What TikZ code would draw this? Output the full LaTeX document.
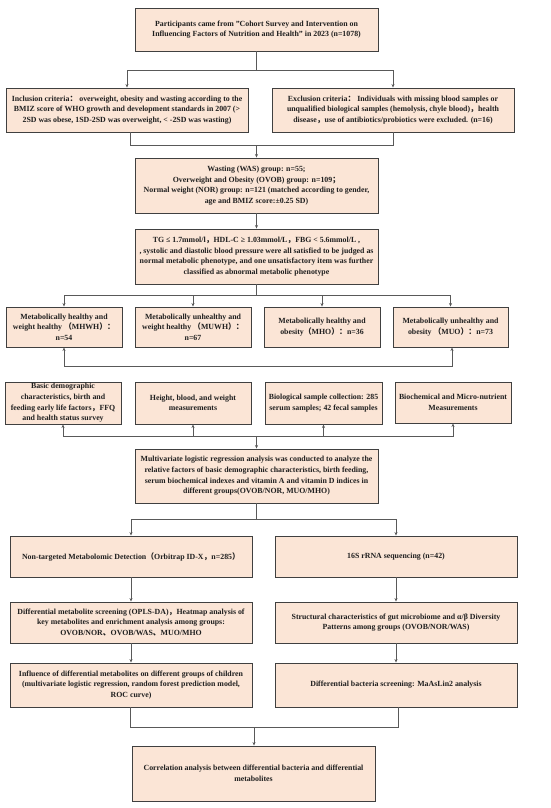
\documentclass[tikz,border=0pt]{standalone}
\usepackage{fontspec}
\setmainfont{Liberation Serif}
\newfontfamily\cjk{Noto Sans CJK SC}
\usetikzlibrary{arrows.meta}
\newcommand\zh[1]{{\cjk #1}}
\definecolor{boxc}{HTML}{FBE5D6}
\definecolor{bordc}{HTML}{404040}
\definecolor{linec}{HTML}{595959}
\definecolor{txtc}{HTML}{1F1F1F}
\newcommand\bx[6]{\node[fbox,minimum width=#4pt,minimum height=#5pt] (#1) at (#2,#3) {#6};}
\begin{document}
\begin{tikzpicture}[x=1pt,y=-1pt,
  fbox/.style={draw=bordc, line width=0.9pt, fill=boxc, align=center, inner sep=1pt,
    text=txtc, font=\bfseries\fontsize{7.85}{10.6}\selectfont},
  ln/.style={draw=linec, line width=0.8pt},
  arr/.style={draw=linec, line width=0.8pt, -{Stealth[length=3.5pt,width=3pt]}}]
\useasboundingbox (0,0) rectangle (550,808);

\bx{p}{256.5}{29.5}{243}{43}{Participants came from "Cohort Survey and Intervention on\\Influencing Factors of Nutrition and Health" in 2023 (n=1078)}
\bx{incl}{127}{110}{242}{44}{Inclusion criteria\zh{：} overweight, obesity and wasting according to the\\BMIZ score of WHO growth and development standards in 2007 (>\\2SD was obese, 1SD-2SD was overweight, < -2SD was wasting)}
\bx{excl}{393}{110}{242}{44}{Exclusion criteria\zh{：} Individuals with missing blood samples or\\unqualified biological samples (hemolysis, chyle blood)\zh{，}health\\disease\zh{，}use of antibiotics/probiotics were excluded. (n=16)}
\bx{grp}{256.5}{185.5}{243}{55}{Wasting (WAS) group: n=55;\\Overweight and Obesity (OVOB) group: n=109\zh{；}\\Normal weight (NOR) group: n=121 (matched according to gender,\\age and BMIZ score:±0.25 SD)}
\bx{crit}{256.5}{256.5}{243}{55}{TG ≤ 1.7mmol/l\zh{，}HDL-C ≥ 1.03mmol/L\zh{，}FBG < 5.6mmol/L ,\\, systolic and diastolic blood pressure were all satisfied to be judged as\\normal metabolic phenotype, and one unsatisfactory item was further\\classified as abnormal metabolic phenotype}

\bx{m1}{64}{327}{116}{40}{Metabolically healthy and\\weight healthy \zh{（}MHWH\zh{）：}\\n=54}
\bx{m2}{193}{327}{116}{40}{Metabolically unhealthy and\\weight healthy \zh{（}MUWH\zh{）：}\\n=67}
\bx{m3}{322}{327}{116}{40}{Metabolically healthy and\\obesity\zh{（}MHO\zh{）：}n=36}
\bx{m4}{450.5}{327}{115}{40}{Metabolically unhealthy and\\obesity \zh{（}MUO\zh{）：}n=73}

\bx{a}{63}{403}{116}{42}{Basic demographic\\characteristics, birth and\\feeding early life factors\zh{，}FFQ\\and health status survey}
\bx{b}{193}{403}{116}{42}{Height, blood, and weight\\measurements}
\bx{c}{323.5}{403}{117}{42}{Biological sample collection: 285\\serum samples; 42 fecal samples}
\bx{d}{453}{402.5}{116}{41}{Biochemical and Micro-nutrient\\Measurements}

\bx{e}{256.5}{476}{243}{54}{Multivariate logistic regression analysis was conducted to analyze the\\relative factors of basic demographic characteristics, birth feeding,\\serum biochemical indexes and vitamin A and vitamin D indices in\\different groups(OVOB/NOR, MUO/MHO)}

\bx{f}{131}{556.5}{242}{41}{Non-targeted Metabolomic Detection\zh{（}Orbitrap ID-X\zh{，}n=285\zh{）}}
\bx{g}{396}{556.5}{242}{41}{16S rRNA sequencing (n=42)}
\bx{h}{131}{622.5}{242}{41}{Differential metabolite screening (OPLS-DA)\zh{，}Heatmap analysis of\\key metabolites and enrichment analysis among groups:\\OVOB/NOR\zh{、}OVOB/WAS\zh{、}MUO/MHO}
\bx{i}{396}{622.5}{242}{41}{Structural characteristics of gut microbiome and α/β Diversity\\Patterns among groups (OVOB/NOR/WAS)}
\bx{j}{131}{685}{242}{44}{Influence of differential metabolites on different groups of children\\(multivariate logistic regression, random forest prediction model,\\ROC curve)}
\bx{k}{396}{685}{242}{44}{Differential bacteria screening: MaAsLin2 analysis}
\bx{l}{253.5}{773.5}{243}{55}{Correlation analysis between differential bacteria and differential\\metabolites}

% connectors
\coordinate (j1) at (256.5,70);
\draw[ln] (p.south) -- (j1);
\draw[arr] (j1) -| (incl.north);
\draw[arr] (j1) -| (excl.north);

\coordinate (j2) at (256.5,145);
\draw[ln] ([xshift=3pt]incl.south) |- (j2);
\draw[ln] (excl.south) |- (j2);
\draw[arr] (j2) -- (grp.north);

\draw[arr] (grp.south) -- (crit.north);

\coordinate (j3) at (256.5,295);
\draw[ln] (crit.south) -- (j3);
\foreach \n in {m1,m2,m3,m4} \draw[arr] (j3) -| (\n.north);

\coordinate (j4) at (256.5,366);
\draw[arr] (j4) -| (m1.south);
\draw[arr] (j4) -| ([xshift=1.5pt]m4.south);

\coordinate (j5) at (256.5,436);
\foreach \n in {a,b,c,d} \draw[arr] (j5) -| (\n.south);
\draw[arr] (j5) -- (e.north);

\coordinate (j6) at (256.5,519);
\draw[ln] (e.south) -- (j6);
\draw[arr] (j6) -| (f.north);
\draw[arr] (j6) -| (g.north);

\draw[arr] (f.south) -- (h.north);
\draw[arr] (h.south) -- (j.north);
\draw[arr] (g.south) -- (i.north);
\draw[arr] (i.south) -- (k.north);

\coordinate (j7) at (254,727);
\draw[ln] ([xshift=-1pt]j.south) |- (j7);
\draw[ln] ([xshift=2pt]k.south) |- (j7);
\draw[arr] (j7) -- (l.north -| j7);
\end{tikzpicture}
\end{document}
